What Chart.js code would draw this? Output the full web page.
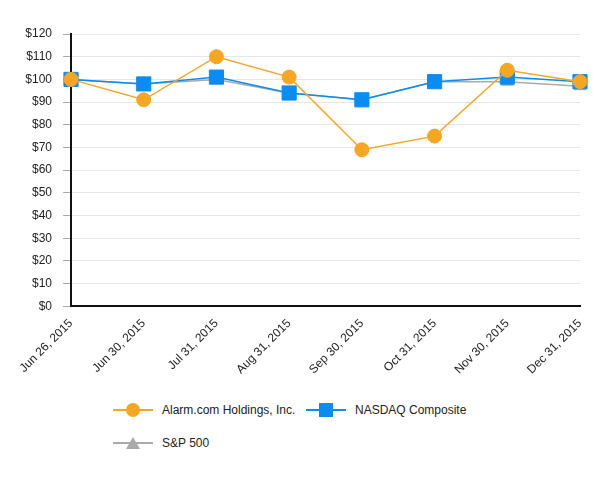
<!DOCTYPE html>
<html>
<head>
<meta charset="utf-8">
<script src="https://cdn.jsdelivr.net/npm/chart.js@4"></script>
<style>
    body { margin: 0; background: #fff; font-family: "Liberation Sans", Arial, sans-serif; }
    #wrap { position: relative; width: 613px; height: 379px; }
    #legend { position: absolute; left: 113px; top: 398px; width: 480px; font-size: 12px; color: #222; }
    .legend-item { position: absolute; height: 24px; display: flex; align-items: center; white-space: nowrap; }
    .legend-line { position: relative; width: 40px; height: 2px; margin-right: 9px; }
    .legend-mark { position: absolute; left: 50%; top: 50%; transform: translate(-50%, -50%); }
</style>
</head>
<body>
<div id="wrap"><canvas id="lineChart"></canvas></div>
<div id="legend"></div>
<script>
// Données
const LABELS = ['Jun 26, 2015','Jun 30, 2015','Jul 31, 2015','Aug 31, 2015','Sep 30, 2015','Oct 31, 2015','Nov 30, 2015','Dec 31, 2015']
const ALARM  = [100, 91, 110, 101, 69, 75, 104, 99]
const NASDAQ = [100, 98, 101, 94, 91, 99, 101, 99]
const SP500  = [100, 98, 100, 94, 91, 99, 99, 97]
const Y_TICKS = [0, 10, 20, 30, 40, 50, 60, 70, 80, 90, 100, 110, 120]

const ORANGE = '#f5a623'
const BLUE   = '#0a8df2'
const GREY   = '#aaaaaa'

const series = [
    { label: 'Alarm.com Holdings, Inc.', data: ALARM,  color: ORANGE, style: 'circle',   radius: 7 },
    { label: 'NASDAQ Composite',         data: NASDAQ, color: BLUE,   style: 'rect',     radius: 10 },
    { label: 'S&P 500',                  data: SP500,  color: GREY,   style: 'triangle', radius: 7 }
]

Chart.defaults.font.family = '"Liberation Sans", Arial, sans-serif'
Chart.defaults.font.size = 12
Chart.defaults.color = '#222'

new Chart(document.getElementById('lineChart'), {
    type: 'line',
    data: {
        labels: LABELS,
        datasets: series.map(s => ({
            label: s.label,
            data: s.data,
            borderColor: s.color,
            backgroundColor: s.color,
            borderWidth: 1.5,
            pointStyle: s.style,
            pointRadius: s.radius,
            pointHoverRadius: s.radius,
            pointBorderWidth: 1,
            pointBorderColor: s.color,
            tension: 0,
            clip: false
        }))
    },
    options: {
        responsive: true,
        maintainAspectRatio: false,
        animation: false,
        layout: { padding: { top: 34, right: 33, left: 0, bottom: 0 } },
        plugins: {
            legend: { display: false },
            tooltip: { enabled: false }
        },
        scales: {
            x: {
                offset: false,
                grid: { display: false },
                border: { color: '#111', width: 2 },
                ticks: { maxRotation: 45, minRotation: 45, autoSkip: false, padding: 2, font: { size: 12 } }
            },
            y: {
                min: 0,
                max: 120,
                afterBuildTicks: axis => { axis.ticks = Y_TICKS.map(v => ({ value: v })) },
                afterFit: axis => { axis.width = 71 },
                grid: { color: '#e6e6e6', tickColor: '#aaa', tickLength: 8, lineWidth: 1 },
                border: { color: '#111', width: 2 },
                ticks: { callback: v => '$' + v, padding: 11, font: { size: 12 } }
            }
        }
    }
})

// -- Légende --
const pos = [[0, 0], [193, 0], [0, 33]]
document.getElementById('legend').innerHTML = series.map((s, i) => {
    let mark = ''
    if (s.style === 'circle') mark = `<span class="legend-mark" style="width:14px;height:14px;border-radius:50%;background:${s.color}"></span>`
    else if (s.style === 'rect') mark = `<span class="legend-mark" style="width:14px;height:14px;background:${s.color}"></span>`
    else mark = `<span class="legend-mark" style="width:0;height:0;border-left:7px solid transparent;border-right:7px solid transparent;border-bottom:12px solid ${s.color}"></span>`
    return `<div class="legend-item" style="left:${pos[i][0]}px;top:${pos[i][1]}px">
        <span class="legend-line" style="background:${s.color}">${mark}</span>${s.label.replace('&', '&amp;')}
    </div>`
}).join('')
</script>
</body>
</html>
